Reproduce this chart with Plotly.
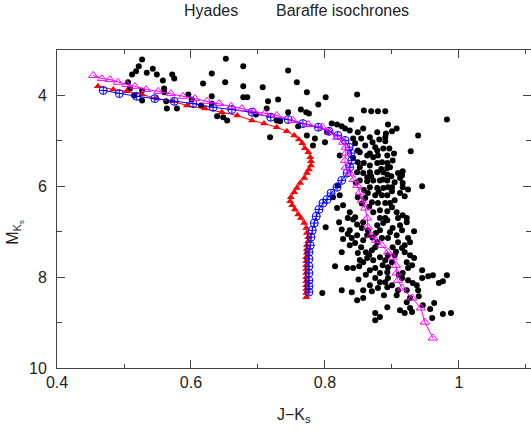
import plotly.graph_objects as go

# Hyades members, (J-Ks, M_Ks)
stars = [
    (0.527, 3.21), (0.522, 3.36), (0.518, 3.47), (0.512, 3.54), (0.534, 3.50), (0.543, 3.41),
    (0.549, 3.54), (0.572, 3.54), (0.575, 3.63), (0.506, 3.71), (0.509, 3.85), (0.527, 3.89),
    (0.527, 4.11), (0.515, 4.00), (0.558, 3.67), (0.560, 3.85), (0.560, 3.93), (0.564, 4.29),
    (0.579, 4.29), (0.563, 4.13), (0.596, 3.98), (0.601, 4.09), (0.615, 4.22), (0.618, 3.74),
    (0.631, 3.52), (0.631, 4.02), (0.631, 4.18), (0.651, 3.71), (0.652, 3.19), (0.678, 3.36),
    (0.678, 3.80), (0.678, 4.04), (0.684, 4.04), (0.639, 4.46), (0.648, 4.48), (0.654, 4.55),
    (0.707, 3.82), (0.715, 4.13), (0.713, 4.29), (0.718, 4.92), (0.730, 4.09), (0.745, 3.45),
    (0.758, 3.71), (0.773, 3.93), (0.745, 4.37), (0.764, 4.31), (0.772, 4.37), (0.760, 4.68),
    (0.773, 4.88), (0.728, 4.55), (0.733, 4.57), (0.801, 4.04), (0.848, 3.98), (0.790, 4.20),
    (0.697, 4.42), (0.776, 4.40),
    (0.858, 4.33), (0.869, 4.35), (0.879, 4.35), (0.890, 4.35), (0.839, 4.53), (0.810, 4.62),
    (0.825, 4.68), (0.837, 4.77), (0.849, 4.81), (0.857, 4.73), (0.867, 4.92), (0.878, 4.81),
    (0.890, 4.92), (0.881, 4.97), (0.854, 4.95), (0.842, 4.95), (0.803, 4.81), (0.782, 5.10),
    (0.800, 5.03), (0.860, 5.10), (0.875, 5.14), (0.887, 5.17), (0.852, 5.25), (0.863, 5.32),
    (0.872, 5.36), (0.879, 5.32), (0.893, 5.32), (0.849, 5.47), (0.858, 5.49), (0.867, 5.54),
    (0.878, 5.49), (0.885, 5.47), (0.893, 5.49), (0.848, 5.69), (0.857, 5.71), (0.867, 5.69),
    (0.878, 5.69), (0.887, 5.69), (0.852, 5.87), (0.863, 5.89), (0.872, 5.87), (0.882, 5.87),
    (0.893, 5.87), (0.867, 6.02), (0.878, 6.04), (0.887, 6.04), (0.894, 6.02), (0.864, 6.15),
    (0.875, 6.20), (0.885, 6.20), (0.893, 6.20), (0.870, 6.35), (0.879, 6.37), (0.890, 6.37),
    (0.882, 6.53), (0.893, 6.55), (0.872, 6.57), (0.819, 5.98), (0.812, 6.24), (0.822, 6.20),
    (0.827, 6.42), (0.818, 6.48), (0.837, 6.57), (0.834, 6.70), (0.845, 6.68), (0.890, 6.70),
    (0.785, 4.95), (0.830, 4.73), (0.818, 4.64), (0.822, 5.32), (0.849, 5.21), (0.867, 5.28),
    (0.878, 5.21), (0.852, 5.58), (0.893, 5.60), (0.863, 5.80), (0.887, 5.85), (0.849, 6.24),
    (0.860, 6.26), (0.845, 5.05), (0.871, 5.03), (0.884, 5.62), (0.858, 6.08), (0.880, 6.12),
    (0.866, 6.45), (0.855, 6.38), (0.846, 5.92), (0.869, 5.78), (0.842, 5.38),
    (0.982, 4.53), (0.939, 4.88), (0.928, 5.23), (0.945, 6.00), (0.894, 4.64), (0.907, 4.73),
    (0.900, 4.79), (0.896, 5.17), (0.903, 5.28), (0.901, 5.43), (0.897, 5.58), (0.893, 5.74),
    (0.899, 5.78), (0.915, 5.76), (0.916, 5.67), (0.912, 5.82), (0.904, 5.91), (0.916, 5.93),
    (0.924, 6.07), (0.900, 6.02), (0.900, 6.11), (0.912, 6.15), (0.919, 6.22), (0.904, 6.31),
    (0.897, 6.37), (0.900, 6.46), (0.907, 6.57), (0.916, 6.64), (0.922, 6.70), (0.909, 5.71),
    (0.916, 6.02), (0.890, 5.01), (0.891, 4.84),
    (0.801, 6.90), (0.821, 6.79), (0.825, 6.95), (0.837, 6.97), (0.842, 6.73), (0.848, 6.84),
    (0.827, 7.16), (0.840, 7.14), (0.848, 7.08), (0.837, 7.30), (0.845, 7.25), (0.854, 7.34),
    (0.857, 7.19), (0.863, 7.08), (0.864, 6.97), (0.855, 6.92), (0.857, 6.79), (0.825, 7.45),
    (0.849, 7.47), (0.861, 7.45), (0.870, 7.41), (0.875, 7.34), (0.878, 7.23), (0.885, 7.14),
    (0.876, 7.03), (0.882, 6.97), (0.878, 6.86), (0.887, 6.81), (0.893, 6.75), (0.882, 6.70),
    (0.815, 7.76), (0.833, 7.80), (0.842, 7.80), (0.851, 7.76), (0.857, 7.67), (0.863, 7.58),
    (0.872, 7.63), (0.882, 7.56), (0.890, 7.63), (0.894, 7.52), (0.867, 7.85), (0.875, 7.80),
    (0.882, 7.91), (0.893, 7.89), (0.875, 8.02), (0.882, 8.11), (0.890, 8.11), (0.894, 8.02),
    (0.867, 8.18), (0.879, 8.24), (0.870, 8.31), (0.857, 8.29), (0.840, 8.33), (0.825, 8.29),
    (0.796, 8.35), (0.848, 8.51), (0.857, 8.46), (0.875, 8.79), (0.882, 8.88), (0.875, 8.95),
    (0.893, 8.66), (0.888, 8.40), (0.866, 7.52), (0.852, 7.62), (0.861, 7.95), (0.871, 7.13),
    (0.834, 7.05), (0.850, 8.05), (0.886, 7.74),
    (0.933, 6.99), (0.933, 7.58), (0.945, 7.85), (0.945, 8.02), (0.954, 7.98), (0.961, 7.96),
    (0.982, 7.96), (0.976, 8.09), (0.970, 8.13), (0.939, 8.29), (0.940, 8.42), (0.963, 8.57),
    (0.946, 8.62), (0.957, 8.70), (0.976, 8.81), (0.988, 8.79), (0.960, 8.90), (0.927, 7.52),
    (0.927, 7.23), (0.924, 7.14), (0.919, 7.30), (0.919, 7.45), (0.922, 7.67), (0.930, 7.74),
    (0.924, 7.80), (0.916, 7.91), (0.915, 8.02), (0.924, 8.07), (0.931, 8.13), (0.937, 8.18),
    (0.922, 8.29), (0.907, 8.40), (0.927, 8.46), (0.922, 8.55), (0.927, 8.68), (0.930, 8.77),
    (0.919, 8.79), (0.912, 8.73), (0.909, 6.70), (0.922, 6.79), (0.912, 6.86), (0.901, 6.92),
    (0.915, 6.97), (0.907, 7.08), (0.897, 7.01), (0.909, 7.23), (0.901, 7.34), (0.894, 7.14),
    (0.915, 7.36), (0.904, 7.52), (0.900, 7.67), (0.894, 7.78), (0.900, 8.18), (0.893, 8.22),
    (0.909, 8.29), (0.910, 7.95), (0.906, 7.44),
]
star_jk, star_mk = zip(*stars)

# Baraffe isochrones
red_jk = [0.461, 0.484, 0.504, 0.527, 0.549, 0.572, 0.594, 0.621, 0.646, 0.669, 0.691, 0.709,
          0.728, 0.743, 0.754, 0.761, 0.766, 0.770, 0.775, 0.778, 0.779, 0.779, 0.776, 0.773,
          0.769, 0.763, 0.758, 0.754, 0.749, 0.748, 0.751, 0.755, 0.760, 0.764, 0.769, 0.772,
          0.773, 0.775, 0.775, 0.773, 0.773, 0.773, 0.772, 0.772, 0.772, 0.772, 0.772, 0.772,
          0.772, 0.772, 0.772, 0.772, 0.772]
red_mk = [3.80, 3.87, 3.91, 3.98, 4.07, 4.13, 4.22, 4.29, 4.37, 4.44, 4.55, 4.62,
          4.70, 4.79, 4.88, 4.97, 5.05, 5.16, 5.25, 5.36, 5.45, 5.54, 5.63, 5.71,
          5.82, 5.93, 6.04, 6.13, 6.24, 6.33, 6.42, 6.51, 6.62, 6.70, 6.81, 6.92,
          7.03, 7.12, 7.21, 7.30, 7.38, 7.47, 7.56, 7.65, 7.74, 7.82, 7.91, 8.00,
          8.09, 8.18, 8.26, 8.35, 8.44]

blue_jk = [0.469, 0.493, 0.519, 0.546, 0.575, 0.603, 0.633, 0.661, 0.691, 0.719, 0.745, 0.767,
           0.790, 0.806, 0.819, 0.830, 0.836, 0.839, 0.840, 0.837, 0.833, 0.825, 0.818, 0.809,
           0.803, 0.797, 0.791, 0.787, 0.784, 0.781, 0.779, 0.778, 0.776, 0.776, 0.776, 0.776,
           0.776, 0.776, 0.776]
blue_mk = [3.89, 3.96, 4.02, 4.07, 4.13, 4.18, 4.26, 4.31, 4.37, 4.48, 4.53, 4.62,
           4.70, 4.79, 4.88, 4.99, 5.14, 5.27, 5.43, 5.58, 5.71, 5.87, 6.02, 6.15,
           6.29, 6.37, 6.51, 6.66, 6.81, 6.97, 7.12, 7.30, 7.45, 7.60, 7.76, 7.91,
           8.07, 8.20, 8.33]

mag_jk = [0.454, 0.467, 0.479, 0.491, 0.504, 0.516, 0.533, 0.551, 0.570, 0.588, 0.606, 0.624,
          0.642, 0.660, 0.676, 0.693, 0.710, 0.728, 0.752, 0.775, 0.796, 0.807, 0.818, 0.827,
          0.831, 0.831, 0.830, 0.831, 0.837, 0.843, 0.848, 0.852, 0.855, 0.860, 0.863, 0.864,
          0.869, 0.876, 0.885, 0.894, 0.901, 0.906, 0.907, 0.909, 0.915, 0.930, 0.943, 0.949,
          0.961]
mag_mk = [3.56, 3.63, 3.65, 3.71, 3.76, 3.80, 3.87, 3.91, 3.96, 4.02, 4.07, 4.13,
          4.18, 4.24, 4.29, 4.35, 4.40, 4.44, 4.55, 4.64, 4.70, 4.81, 4.92, 5.03,
          5.14, 5.27, 5.43, 5.58, 5.71, 5.85, 5.98, 6.13, 6.31, 6.48, 6.70, 6.90,
          7.08, 7.19, 7.30, 7.45, 7.56, 7.74, 7.91, 8.07, 8.24, 8.46, 8.68, 8.99,
          9.34]

FONT = 'Liberation Sans'
TXT = '#222222'
FRAME = '#444444'

fig = go.Figure()
fig.add_trace(go.Scatter(x = star_jk, y = star_mk, mode = 'markers',
                         marker = dict(color = 'black', size = 6, line_width = 0)))
fig.add_trace(go.Scatter(x = red_jk, y = red_mk, mode = 'lines+markers',
                         line = dict(color = '#ff0000', width = 1),
                         marker = dict(symbol = 'triangle-up', color = '#ff0000', size = 7, line_width = 0)))
fig.add_trace(go.Scatter(x = blue_jk, y = blue_mk, mode = 'lines+markers',
                         line = dict(color = '#0000ff', width = 1),
                         marker = dict(symbol = 'circle-cross-open', color = '#0000ff', size = 8, line_width = 1)))
fig.add_trace(go.Scatter(x = mag_jk, y = mag_mk, mode = 'lines+markers',
                         line = dict(color = '#ff00ff', width = 1),
                         marker = dict(symbol = 'triangle-up-open', color = '#ff00ff', size = 8, line_width = 1)))

axis = dict(showgrid = False, zeroline = False, showline = True, linecolor = FRAME, linewidth = 1,
            mirror = 'ticks', ticks = 'inside', ticklen = 8, tickcolor = FRAME,
            tickfont = dict(family = FONT, size = 16, color = TXT))

fig.update_xaxes(**axis, range = [0.4, 1.1075], tickvals = [0.4, 0.6, 0.8, 1.0],
                 ticktext = ['0.4', '0.6', '0.8', '1'],
                 minor = dict(tickvals = [0.5, 0.7, 0.9, 1.1], ticklen = 4, ticks = 'inside', tickcolor = FRAME))
fig.update_yaxes(**axis, range = [10, 3], tickvals = [4, 6, 8, 10],
                 minor = dict(tickvals = [5, 7, 9], ticklen = 5, ticks = 'inside', tickcolor = FRAME),
                 ticklabelstandoff = 6)

fig.update_layout(
    width = 531, height = 434,
    margin = dict(l = 57, r = 0, t = 50, b = 66),
    plot_bgcolor = 'white', paper_bgcolor = 'white',
    showlegend = False,
    annotations = [
        dict(text = 'Hyades', x = 0.264, y = 1.123, xref = 'paper', yref = 'paper',
             xanchor = 'left', yanchor = 'middle', showarrow = False,
             font = dict(family = FONT, size = 16, color = TXT)),
        dict(text = 'Baraffe isochrones', x = 0.457, y = 1.123, xref = 'paper', yref = 'paper',
             xanchor = 'left', yanchor = 'middle', showarrow = False,
             font = dict(family = FONT, size = 16, color = TXT)),
        dict(text = 'J\u2212K<sub>s</sub>', x = 0.501, y = -0.15, xref = 'paper', yref = 'paper',
             xanchor = 'center', yanchor = 'middle', showarrow = False,
             font = dict(family = FONT, size = 16, color = TXT)),
        dict(text = 'M<sub>K<sub>s</sub></sub>', x = -0.089, y = 0.428, xref = 'paper', yref = 'paper',
             xanchor = 'center', yanchor = 'middle', showarrow = False, textangle = -90,
             font = dict(family = FONT, size = 16, color = TXT)),
    ],
)

# drop the default 8px body margin so the figure fills the window
fig.write_html('out.html', config = {'displayModeBar': False},
               post_script = "document.body.style.margin = '0';")
